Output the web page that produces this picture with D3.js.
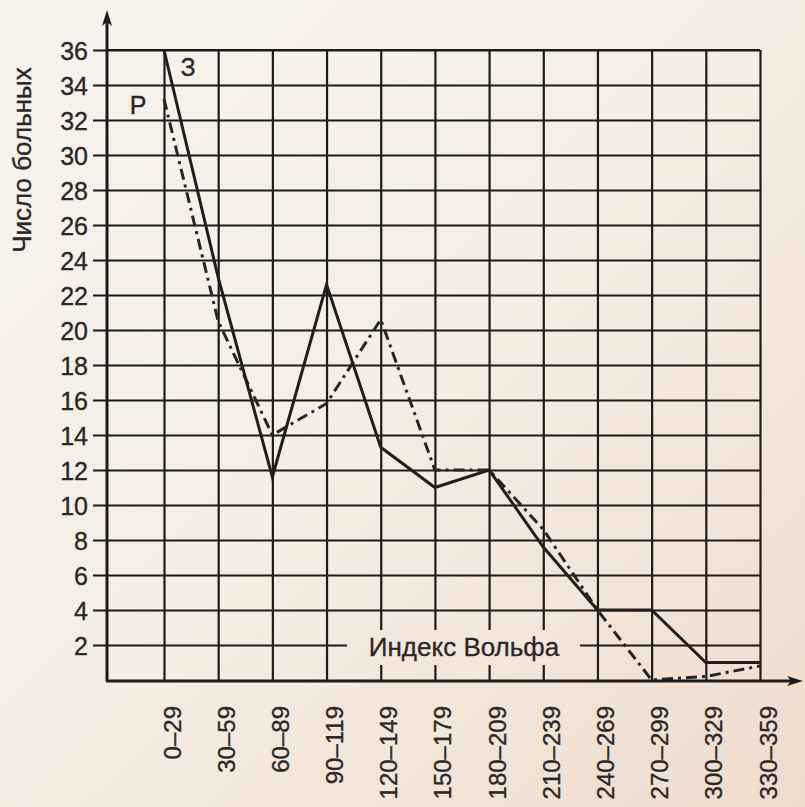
<!DOCTYPE html>
<html>
<head>
<meta charset="utf-8">
<script src="https://cdn.jsdelivr.net/npm/d3@7"></script>
<style>
  html, body { margin: 0; padding: 0; background: #f4ece2; }
  svg { display: block; }
  text { font-family: "Liberation Sans", Arial, sans-serif; fill: #2b2827; stroke: #2b2827; stroke-width: 0.35px; }
</style>
</head>
<body>
<script>
// ---- data ----
const categories = ["0–29","30–59","60–89","90–119","120–149","150–179","180–209","210–239","240–269","270–299","300–329","330–359"];
const seriesZ = [36, 23, 11.6, 22.6, 13.3, 11, 12, 7.6, 4, 4, 1, 1];      // solid line "З"
const seriesR = [33.2, 20.5, 14, 15.8, 20.6, 12, 12, 8.6, 4, 0, 0.2, 0.8]; // dash-dot line "Р"
const yTicks = [2,4,6,8,10,12,14,16,18,20,22,24,26,28,30,32,34,36];
const yTitle = "Число больных";
const xTitle = "Индекс Вольфа";
const seriesLabels = ["З", "Р"];

// ---- layout ----
const W = 805, H = 807;
const axisX = 107, gridRight = 760, gridTop = 50, gridBottom = 680;
const ink = "#1f1b1a";

const svg = d3.select("body").append("svg").attr("width", W).attr("height", H);

const defs = svg.append("defs");
const grad = defs.append("linearGradient").attr("id", "paper")
  .attr("gradientUnits", "userSpaceOnUse")
  .attr("x1", 0).attr("y1", 0).attr("x2", W).attr("y2", H);
grad.append("stop").attr("offset", "0%").attr("stop-color", "#f7f3ec");
grad.append("stop").attr("offset", "45%").attr("stop-color", "#f6eee5");
grad.append("stop").attr("offset", "100%").attr("stop-color", "#eedcce");

svg.append("rect").attr("width", W).attr("height", H).attr("fill", "url(#paper)");

const x = d3.scalePoint().domain(categories).range([164, gridRight]);
const y = d3.scaleLinear().domain([0, 36]).range([gridBottom, gridTop]);

// horizontal grid + y tick labels
const yAxis = d3.axisLeft(y).tickValues(yTicks).tickSize(-(gridRight - 93)).tickPadding(5);
const gy = svg.append("g").attr("transform", `translate(93,0)`).call(yAxis);
gy.select(".domain").remove();
gy.selectAll(".tick line").attr("stroke", ink).attr("stroke-width", 2.2);
gy.selectAll(".tick text")
  .attr("fill", "#2b2827")
  .style("font-size", "25px")
  .attr("dy", "0.36em");

// vertical grid + x tick labels
const xAxis = d3.axisBottom(x).tickSize(-(gridBottom - gridTop)).tickPadding(0);
const gx = svg.append("g").attr("transform", `translate(0,${gridBottom})`).call(xAxis);
gx.select(".domain").remove();
gx.selectAll(".tick line").attr("stroke", ink).attr("stroke-width", 2.2);
gx.selectAll(".tick text")
  .attr("fill", "#2b2827")
  .style("font-size", "24px")
  .attr("text-anchor", "end")
  .attr("transform", "rotate(-90)")
  .attr("x", -26)
  .attr("y", 16)
  .attr("dy", 0);

// x title sitting inside the lowest grid row, on a paper-coloured patch
svg.append("rect")
  .attr("x", 347).attr("y", 630).attr("width", 233).attr("height", 35)
  .attr("fill", "url(#paper)");
svg.append("text")
  .attr("x", 464).attr("y", 656)
  .attr("text-anchor", "middle")
  .style("font-size", "26px")
  .text(xTitle);

// y title
svg.append("text")
  .attr("transform", `translate(31,160) rotate(-90)`)
  .attr("text-anchor", "middle")
  .style("font-size", "26px")
  .text(yTitle);

// series lines
const line = d3.line().x((d, i) => x(categories[i])).y(d => y(d));
svg.append("path").datum(seriesR)
  .attr("d", line).attr("fill", "none")
  .attr("stroke", "#2a2524").attr("stroke-width", 3)
  .attr("stroke-dasharray", "11,5,3,5")
  .attr("stroke-linejoin", "round");
svg.append("path").datum(seriesZ)
  .attr("d", line).attr("fill", "none")
  .attr("stroke", "#231e1d").attr("stroke-width", 3)
  .attr("stroke-linejoin", "miter");

// series labels
svg.append("text").attr("x", 188).attr("y", 76).attr("text-anchor", "middle")
  .style("font-size", "25px").text(seriesLabels[0]);
svg.append("text").attr("x", 138).attr("y", 114).attr("text-anchor", "middle")
  .style("font-size", "25px").text(seriesLabels[1]);

// grid frame: top border
svg.append("line").attr("x1", axisX).attr("x2", gridRight).attr("y1", gridTop).attr("y2", gridTop)
  .attr("stroke", ink).attr("stroke-width", 2.2);

// axes with arrows
svg.append("line").attr("x1", axisX).attr("x2", axisX).attr("y1", gridBottom + 1).attr("y2", 16)
  .attr("stroke", ink).attr("stroke-width", 3);
svg.append("path")
  .attr("d", `M${axisX},10 L${axisX - 5},26 L${axisX},22 L${axisX + 5},26 Z`)
  .attr("fill", ink);
svg.append("line").attr("x1", axisX - 1).attr("x2", 796).attr("y1", gridBottom + 1).attr("y2", gridBottom + 1)
  .attr("stroke", ink).attr("stroke-width", 3);
svg.append("path")
  .attr("d", `M803,${gridBottom + 1} L787,${gridBottom - 4} L791,${gridBottom + 1} L787,${gridBottom + 6} Z`)
  .attr("fill", ink);
</script>
</body>
</html>
